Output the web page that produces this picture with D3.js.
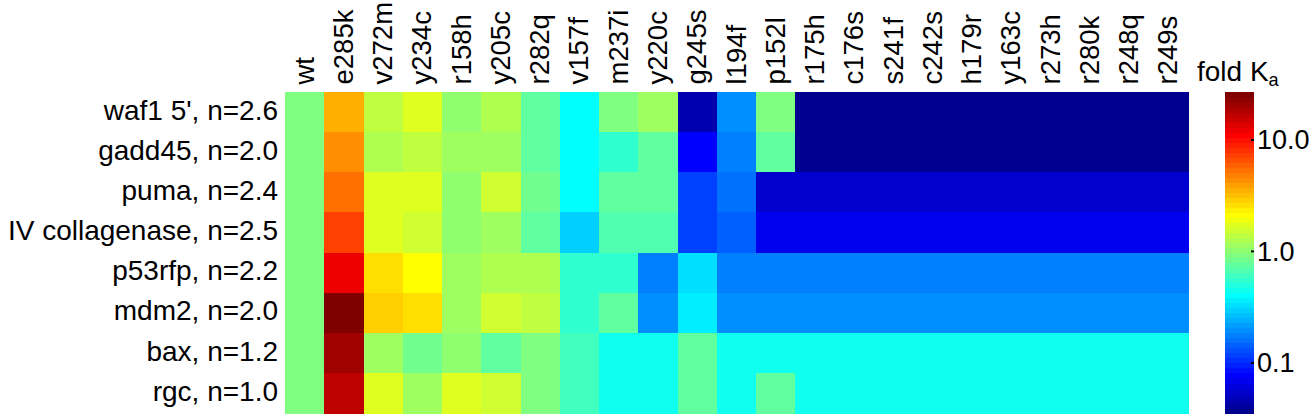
<!DOCTYPE html>
<html>
<head>
<meta charset="utf-8">
<script src="https://cdn.jsdelivr.net/npm/d3@7"></script>
<style>
  html, body { margin: 0; padding: 0; background: #fff; }
  svg { display: block; }
  text { font-family: "Liberation Sans", Arial, Helvetica, sans-serif; fill: #000; }
</style>
</head>
<body>
<svg id="chart" width="1312" height="420"></svg>
<script>
// ---------- data ----------
const mutants = ["wt","e285k","v272m","y234c","r158h","y205c","r282q","v157f","m237i","y220c",
  "g245s","l194f","p152l","r175h","c176s","s241f","c242s","h179r","y163c","r273h","r280k","r248q","r249s"];
const promoters = ["waf1 5', n=2.6","gadd45, n=2.0","puma, n=2.4","IV collagenase, n=2.5",
  "p53rfp, n=2.2","mdm2, n=2.0","bax, n=1.2","rgc, n=1.0"];

const waf1   = [0.93, 3.57, 1.40, 1.73, 1.03, 1.27, 0.75, 0.40, 0.93, 1.14, 0.046, 0.196, 0.93, 0.037, 0.037, 0.037, 0.037, 0.037, 0.037, 0.037, 0.037, 0.037, 0.037];
const gadd45 = [0.93, 4.39, 1.27, 1.40, 1.14, 1.20, 0.75, 0.40, 0.55, 0.75, 0.077, 0.177, 0.75, 0.037, 0.037, 0.037, 0.037, 0.037, 0.037, 0.037, 0.037, 0.037, 0.037];
const puma   = [0.93, 5.40, 1.73, 1.73, 1.03, 1.56, 0.84, 0.40, 0.75, 0.72, 0.117, 0.159, 0.057, 0.057, 0.057, 0.057, 0.057, 0.057, 0.057, 0.057, 0.057, 0.057, 0.057];
const collIV = [0.93, 7.37, 1.73, 1.56, 1.03, 1.14, 0.75, 0.30, 0.68, 0.68, 0.123, 0.144, 0.070, 0.070, 0.070, 0.070, 0.070, 0.070, 0.070, 0.070, 0.070, 0.070, 0.070];
const p53rfp = [0.93, 12.4, 2.6, 2.1, 1.14, 1.27, 1.27, 0.55, 0.55, 0.177, 0.33, 0.177, 0.177, 0.177, 0.177, 0.177, 0.177, 0.177, 0.177, 0.177, 0.177, 0.177, 0.177];
const mdm2   = [0.93, 25.6, 2.9, 2.6, 1.14, 1.56, 1.40, 0.55, 0.75, 0.196, 0.365, 0.196, 0.196, 0.196, 0.196, 0.196, 0.196, 0.196, 0.196, 0.196, 0.196, 0.196, 0.196];
const bax    = [0.93, 20.8, 1.14, 0.84, 1.03, 0.75, 0.93, 0.61, 0.45, 0.45, 0.75, 0.45, 0.45, 0.45, 0.45, 0.45, 0.45, 0.45, 0.45, 0.45, 0.45, 0.45, 0.45];
const rgc    = [0.93, 16.9, 1.73, 1.14, 1.73, 1.56, 0.93, 0.61, 0.45, 0.45, 0.75, 0.45, 0.72, 0.45, 0.45, 0.45, 0.45, 0.45, 0.45, 0.45, 0.45, 0.45, 0.45];

const colorbarTicks = [0.1, 1, 10];
const colorbarTickLabels = ["0.1", "1.0", "10.0"];
const logDomain = [-1.45, 1.43];   // log10 fold Ka range of the colour scale

const matrix = [waf1, gadd45, puma, collIV, p53rfp, mdm2, bax, rgc];

// ---------- layout ----------
const svg = d3.select("#chart");
const hm = { x0: 285, x1: 1188, y0: 92, y1: 413 };
const cb = { x0: 1225, x1: 1254 };
const FS = 28;

// MATLAB-style jet(64) colormap
const NC = 64;
const jetM = d3.range(1, NC + 1).map(k => {
  let r, g, b;
  if (k <= 8) { r = 0; g = 0; b = 0.5 + k * 0.0625; }
  else if (k <= 24) { r = 0; g = (k - 8) * 0.0625; b = 1; }
  else if (k <= 40) { r = (k - 24) * 0.0625; g = 1; b = 1 - (k - 24) * 0.0625; }
  else if (k <= 56) { r = 1; g = 1 - (k - 40) * 0.0625; b = 0; }
  else { r = 1 - (k - 56) * 0.0625; g = 0; b = 0; }
  return d3.rgb(r * 255, g * 255, b * 255).formatHex();
});

const color = d3.scaleQuantize().domain(logDomain).range(jetM);

const x = d3.scaleBand().domain(mutants).range([hm.x0, hm.x1]).paddingInner(0).paddingOuter(0);
const y = d3.scaleBand().domain(promoters).range([hm.y0, hm.y1]).paddingInner(0).paddingOuter(0);

// cells
const cells = [];
promoters.forEach((p, i) => mutants.forEach((m, j) => cells.push({ p, m, v: matrix[i][j] })));
svg.append("g").selectAll("rect").data(cells).join("rect")
  .attr("x", d => x(d.m)).attr("y", d => y(d.p))
  .attr("width", x.bandwidth() + 0.5).attr("height", y.bandwidth() + 0.5)
  .attr("fill", d => color(Math.log10(d.v)))
  .attr("shape-rendering", "crispEdges");

// row labels
svg.append("g").selectAll("text").data(promoters).join("text")
  .attr("x", 278).attr("y", d => y(d) + y.bandwidth() / 2 - 2)
  .attr("dy", "0.35em").attr("text-anchor", "end")
  .attr("font-size", FS).text(d => d);

// column labels (rotated)
svg.append("g").selectAll("text").data(mutants).join("text")
  .attr("transform", d => `translate(${x(d) + x.bandwidth() / 2 + 9},84.5) rotate(-90)`)
  .attr("text-anchor", "start")
  .attr("font-size", 27.5).text(d => d);

// colorbar
const bands = d3.range(NC);
const bandH = (hm.y1 - hm.y0) / NC;
svg.append("g").selectAll("rect").data(bands).join("rect")
  .attr("x", cb.x0).attr("width", cb.x1 - cb.x0)
  .attr("y", i => hm.y1 - (i + 1) * bandH).attr("height", bandH + 0.6)
  .attr("fill", i => jetM[i]).attr("shape-rendering", "crispEdges");

const cyLog = d3.scaleLog().domain(logDomain.map(v => Math.pow(10, v))).range([hm.y1, hm.y0]);
const axis = d3.axisRight(cyLog).tickValues(colorbarTicks)
  .tickFormat((d, i) => colorbarTickLabels[i]).tickSize(0).tickPadding(3);
const ax = svg.append("g").attr("transform", `translate(${cb.x1},0)`).call(axis);
ax.select(".domain").remove();
ax.selectAll("text").attr("font-size", 27).style("font-family", '"Liberation Sans", Arial, sans-serif').attr("fill", "#000");
// small inner tick marks
svg.append("g").selectAll("line").data(colorbarTicks).join("line")
  .attr("x1", cb.x1 - 3).attr("x2", cb.x1).attr("y1", d => cyLog(d)).attr("y2", d => cyLog(d))
  .attr("stroke", "#000").attr("stroke-width", 2);

// colorbar title
const title = svg.append("text").attr("x", 1197).attr("y", 81).attr("font-size", FS);
title.append("tspan").text("fold K");
title.append("tspan").attr("font-size", FS * 0.65).attr("dy", 5).text("a");
</script>
</body>
</html>
